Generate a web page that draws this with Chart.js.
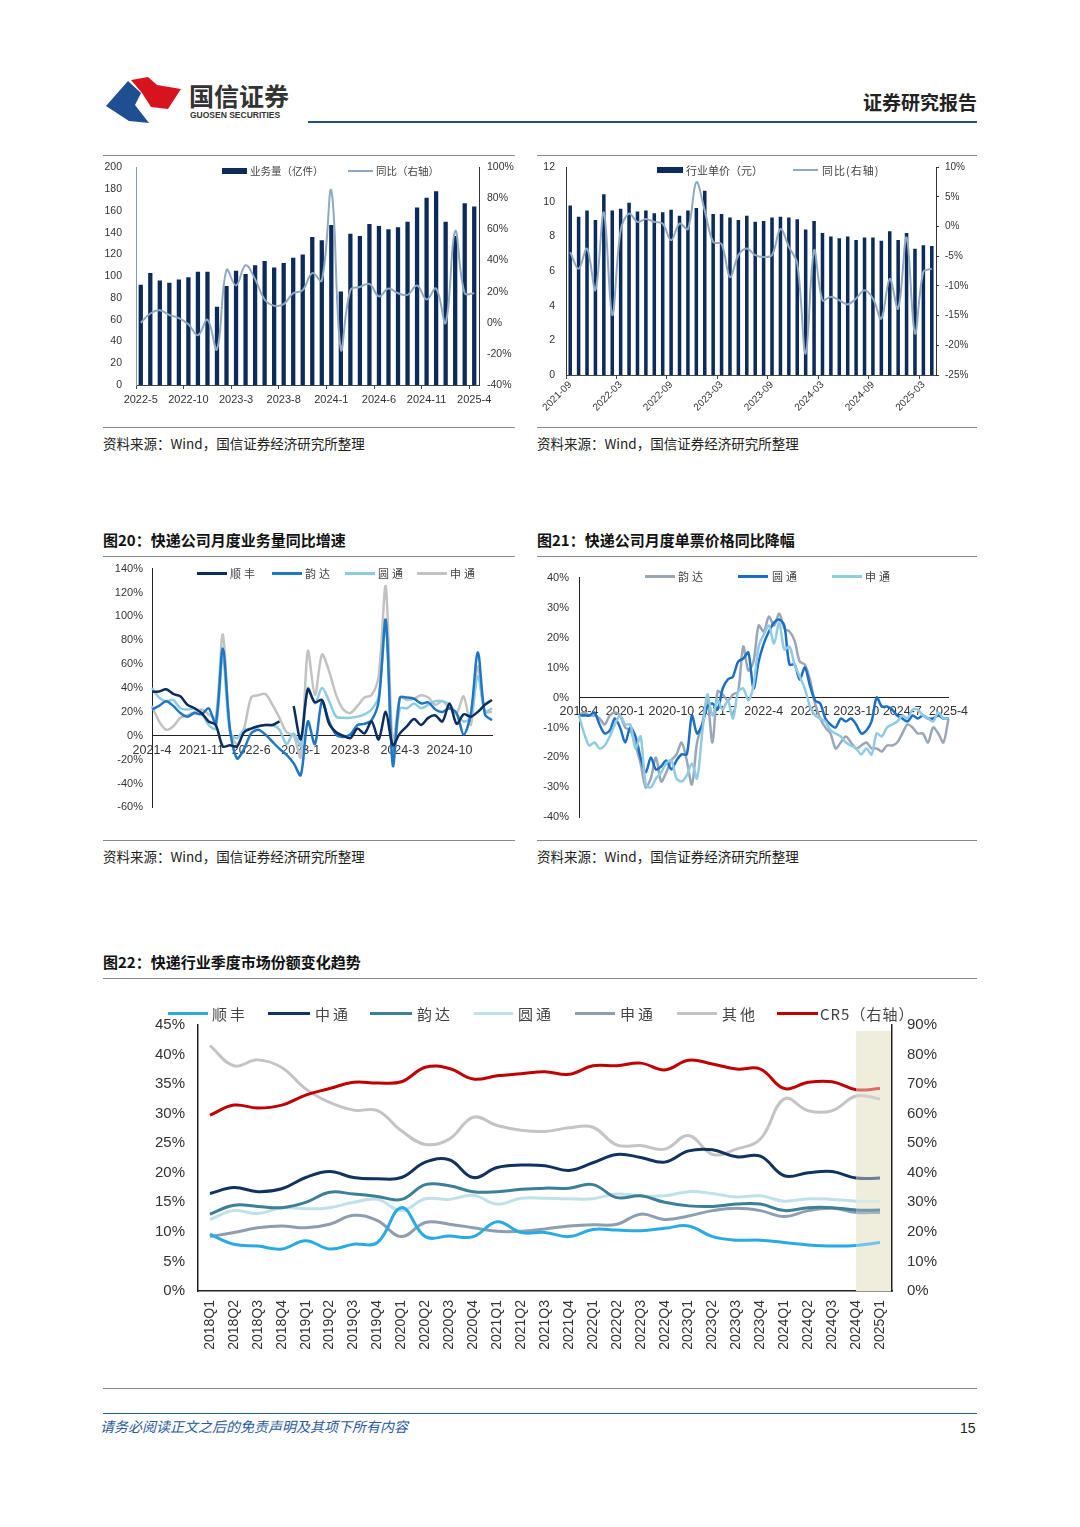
<!DOCTYPE html>
<html>
<head>
<meta charset="utf-8">
<script src="https://cdn.jsdelivr.net/npm/chart.js@4.4.1/dist/chart.umd.min.js"></script>
<style>
body{margin:0;background:#fff;}
#page{position:relative;width:1080px;height:1527px;overflow:hidden;font-family:"Liberation Sans","Noto Sans CJK SC",sans-serif;color:#222;}
.t{position:absolute;white-space:nowrap;line-height:16px;}
.hr{position:absolute;height:1px;background:#8a8a8a;}
.src{font-size:13.5px;font-family:"Noto Sans CJK SC",sans-serif;color:#222;}
.ttl{font-size:15px;font-weight:bold;font-family:"Noto Sans CJK SC",sans-serif;color:#111;}
.box{position:absolute;}
.mk{position:absolute;}
.lg{position:absolute;white-space:nowrap;font-family:"Noto Sans CJK SC",sans-serif;color:#444;line-height:14px;}
</style>
</head>
<body>
<div id="page">
  <!-- header -->
  <svg style="position:absolute;left:104px;top:76px" width="82" height="50">
    <path d="M2 30 L24 5 L37 17 L31 29 L45 47 L25 45 Z" fill="#1d4f91"/>
    <path d="M27 4 L44 1 L53 9 L77 13 L64 33 L47 31 L38 17 Z" fill="#d7141d"/>
  </svg>
  <div class="t" style="left:189px;top:80px;font-size:25px;line-height:30px;font-weight:bold;color:#333;font-family:'Noto Sans CJK SC';">国信证券</div>
  <div class="t" style="left:190px;top:110px;font-size:8.5px;line-height:11px;font-weight:bold;color:#333;">GUOSEN SECURITIES</div>
  <div class="t" style="right:103px;top:90px;font-size:19px;line-height:23px;font-weight:bold;color:#222;font-family:'Noto Sans CJK SC';">证券研究报告</div>
  <div class="hr" style="left:308px;top:121px;width:669px;height:2px;background:#1f4e8c;"></div>

  <!-- top charts frame -->
  <div class="hr" style="left:103px;top:155px;width:412px;"></div>
  <div class="hr" style="left:537px;top:155px;width:440px;"></div>
  <div class="hr" style="left:103px;top:427px;width:412px;"></div>
  <div class="hr" style="left:537px;top:427px;width:440px;"></div>
  <div class="t src" style="left:103px;top:435px;">资料来源：Wind，国信证券经济研究所整理</div>
  <div class="t src" style="left:537px;top:435px;">资料来源：Wind，国信证券经济研究所整理</div>

  <div class="box" style="left:100px;top:147px;width:415px;height:263px;"><canvas id="c1" width="415" height="263"></canvas></div>
  <div class="mk" style="left:222px;top:168px;width:25px;height:6px;background:#0c2b5b;"></div>
  <div class="lg" style="left:250px;top:164px;font-size:10.5px;">业务量（亿件）</div>
  <div class="mk" style="left:348px;top:170px;width:25px;height:2px;background:#8fa9c2;"></div>
  <div class="lg" style="left:376px;top:164px;font-size:10.5px;">同比（右轴）</div>

  <div class="box" style="left:535px;top:150px;width:440px;height:275px;"><canvas id="c2" width="440" height="275"></canvas></div>
  <div class="mk" style="left:657px;top:167px;width:26px;height:6px;background:#0c2b5b;"></div>
  <div class="lg" style="left:686px;top:163px;font-size:11px;">行业单价（元）</div>
  <div class="mk" style="left:793px;top:169px;width:25px;height:2px;background:#8fa9c2;"></div>
  <div class="lg" style="left:822px;top:163px;font-size:11px;letter-spacing:1px;">同比(右轴)</div>

  <!-- middle charts -->
  <div class="t ttl" style="left:103px;top:532px;">图20：快递公司月度业务量同比增速</div>
  <div class="t ttl" style="left:537px;top:532px;">图21：快递公司月度单票价格同比降幅</div>
  <div class="hr" style="left:103px;top:556px;width:412px;"></div>
  <div class="hr" style="left:537px;top:556px;width:440px;"></div>
  <div class="hr" style="left:103px;top:840px;width:412px;"></div>
  <div class="hr" style="left:537px;top:840px;width:440px;"></div>
  <div class="t src" style="left:103px;top:848px;">资料来源：Wind，国信证券经济研究所整理</div>
  <div class="t src" style="left:537px;top:848px;">资料来源：Wind，国信证券经济研究所整理</div>

  <div class="box" style="left:100px;top:553px;width:415px;height:270px;"><canvas id="c3" width="415" height="270"></canvas></div>
  <div class="mk" style="left:197px;top:572px;width:30px;height:3px;background:#0d2d5e;"></div>
  <div class="lg" style="left:230px;top:566px;font-size:11px;letter-spacing:3px;">顺丰</div>
  <div class="mk" style="left:272px;top:572px;width:30px;height:3px;background:#1f77c4;"></div>
  <div class="lg" style="left:305px;top:566px;font-size:11px;letter-spacing:3px;">韵达</div>
  <div class="mk" style="left:345px;top:572px;width:30px;height:3px;background:#8dcbe3;"></div>
  <div class="lg" style="left:378px;top:566px;font-size:11px;letter-spacing:3px;">圆通</div>
  <div class="mk" style="left:417px;top:572px;width:30px;height:3px;background:#c2c2c2;"></div>
  <div class="lg" style="left:450px;top:566px;font-size:11px;letter-spacing:3px;">申通</div>

  <div class="box" style="left:535px;top:561px;width:440px;height:273px;"><canvas id="c4" width="440" height="273"></canvas></div>
  <div class="mk" style="left:645px;top:575px;width:30px;height:3px;background:#9aa6b8;"></div>
  <div class="lg" style="left:678px;top:569px;font-size:11px;letter-spacing:3px;">韵达</div>
  <div class="mk" style="left:738px;top:575px;width:30px;height:3px;background:#1a6fc4;"></div>
  <div class="lg" style="left:772px;top:569px;font-size:11px;letter-spacing:3px;">圆通</div>
  <div class="mk" style="left:832px;top:575px;width:30px;height:3px;background:#8fcbe3;"></div>
  <div class="lg" style="left:865px;top:569px;font-size:11px;letter-spacing:3px;">申通</div>

  <!-- bottom chart -->
  <div class="t ttl" style="left:103px;top:954px;">图22：快递行业季度市场份额变化趋势</div>
  <div class="hr" style="left:103px;top:978px;width:874px;"></div>
  <div class="box" style="left:150px;top:1001px;width:790px;height:364px;"><canvas id="c5" width="790" height="364"></canvas></div>
  <div class="mk" style="left:168px;top:1012px;width:40px;height:3px;background:#2aaae2;"></div>
  <div class="lg" style="left:212px;top:1005px;font-size:15px;line-height:18px;letter-spacing:3px;">顺丰</div>
  <div class="mk" style="left:268px;top:1012px;width:42px;height:3px;background:#12325f;"></div>
  <div class="lg" style="left:315px;top:1005px;font-size:15px;line-height:18px;letter-spacing:3px;">中通</div>
  <div class="mk" style="left:370px;top:1012px;width:42px;height:3px;background:#3d7f96;"></div>
  <div class="lg" style="left:417px;top:1005px;font-size:15px;line-height:18px;letter-spacing:3px;">韵达</div>
  <div class="mk" style="left:474px;top:1012px;width:39px;height:3px;background:#c0e0ea;"></div>
  <div class="lg" style="left:518px;top:1005px;font-size:15px;line-height:18px;letter-spacing:3px;">圆通</div>
  <div class="mk" style="left:575px;top:1012px;width:40px;height:3px;background:#8e9db0;"></div>
  <div class="lg" style="left:620px;top:1005px;font-size:15px;line-height:18px;letter-spacing:3px;">申通</div>
  <div class="mk" style="left:677px;top:1012px;width:40px;height:3px;background:#c4c4c4;"></div>
  <div class="lg" style="left:722px;top:1005px;font-size:15px;line-height:18px;letter-spacing:3px;">其他</div>
  <div class="mk" style="left:777px;top:1012px;width:41px;height:3px;background:#c00000;"></div>
  <div class="lg" style="left:820px;top:1005px;font-size:15px;line-height:18px;letter-spacing:1px;">CR5（右轴）</div>
  <div class="hr" style="left:103px;top:1388px;width:874px;"></div>

  <!-- footer -->
  <div class="hr" style="left:103px;top:1413px;width:874px;background:#2a5a9a;"></div>
  <div class="t" style="left:100px;top:1418px;font-size:14px;font-style:italic;color:#2a5a9a;font-family:'Noto Sans CJK SC';">请务必阅读正文之后的免责声明及其项下所有内容</div>
  <div class="t" style="left:960px;top:1420px;font-size:14px;color:#222;">15</div>
</div>

<script>
function monthLabels(y, m, n, pad) {
  const out = [];
  for (let i = 0; i < n; i++) {
    out.push(y + '-' + (pad && m < 10 ? '0' + m : m));
    m++; if (m > 12) { m = 1; y++; }
  }
  return out;
}

// 图：快递业务量（亿件）及同比
const volMonths = monthLabels(2022, 5, 36, false);
const volValues = [92,103,96,94,97,99,104,104,72,91,105,102,110,114,108,112,117,120,136,133,147,86,139,137,148,146,143,145,150,163,172,178,150,137,167,164];
const volYoy = [0,6,8,5,3,-1,-8,2,-17,34,24,37,28,15,11,12,19,21,32,27,85,-17,21,23,25,17,22,19,18,24,15,22,0,59,19,19];

// 图：行业单价（元）及同比
const priceMonths = monthLabels(2021, 9, 44, true);
const priceValues = [9.8,9.15,9.5,8.95,10.45,9.5,9.6,9.95,9.45,9.5,9.35,9.4,9.55,9.2,9.5,9.65,10.65,9.3,9.3,9.1,8.95,9.2,8.85,8.9,9.1,9.15,9.1,9.0,8.4,8.9,8.2,8.0,7.9,8.0,7.8,7.95,7.95,7.75,8.3,7.8,8.2,7.3,7.5,7.45];
const priceYoy = [-4.3,-7.1,-3.7,-10.7,2.4,-14.9,-0.6,2.2,0.8,1.3,0.8,0.5,-2.3,0.5,-0.4,7.5,2.7,-2.6,-2.9,-8.5,-4.8,-3.7,-4.8,-5.1,-4.8,-0.4,-3.4,-6.2,-21.4,-4.0,-12.4,-11.8,-12.4,-13.1,-12.1,-10.7,-12.1,-15.5,-8.8,-13.8,-1.8,-18.0,-7.6,-7.1];

// 图20
const m20 = monthLabels(2021, 4, 49, false);
const sf20 = [37,37,39,35,33,26,23,19,12,9,-9,-8,-9,3,6,8,9,9,12,null,25,-3,39,28,30,10,3,0,-2,6,2,12,-3,20,-8,2,8,14,9,15,17,12,27,10,18,16,20,26,30];
const yd20 = [22,25,29,25,19,16,19,18,23,10,73,6,-19,-11,2,5,1,-5,-11,-16,-23,-33,12,-7,29,12,1,-1,1,9,10,13,29,97,-25,32,32,31,27,28,22,20,23,19,1,18,70,18,13];
const yt20 = [40,32,29,30,23,22,23,19,9,6,66,3,-2,5,6,8,9,9,5,-7,2,-8,40,27,40,29,16,15,15,16,18,22,33,94,-22,23,23,27,23,26,29,29,26,18,12,15,50,20,23];
const st20 = [25,12,5,8,15,17,20,22,18,15,85,5,-7,6,32,34,35,26,15,3,0,-18,71,34,68,54,34,22,19,25,32,34,50,125,-8,32,30,31,34,32,26,29,23,19,33,9,58,20,20];

// 图21
const m21 = monthLabels(2019, 4, 73, false);
const yd21 = [-6,-5,-6,-6,-7,-9,-6,-5,-6,-10,-11,-16,-22,-30,-27,-20,-28,-25,-21,-19,-15,-21,-29,-15,-9,-1,-15,2,1,-1,1,2,17,9,12,24,22,27,24,28,23,22,19,12,11,6,-2,-7,-10,-12,-17,-15,-13,-15,-17,-16,-15,-17,-17,-18,-16,-16,-15,-12,-9,-10,-12,-12,-15,-10,-12,-15,-7];
const yt21 = [-6,-6,-6,-5,-9,-12,-11,-7,-10,-15,-10,-13,-20,-25,-20,-24,-23,-21,-24,-21,-19,-19,-6,-12,-9,-3,-2,-4,3,6,7,12,13,15,3,12,18,22,25,26,24,11,11,6,10,4,-1,-2,-7,-9,-10,-7,-8,-7,-9,-12,-11,-8,0,-3,-3,-4,-6,-7,-8,-6,-7,-6,-7,-7,-6,-7,-7];
const st21 = [-6,-12,-16,-15,-17,-16,-13,-9,-6,-9,-9,-17,-13,-29,-30,-27,-25,-22,-21,-27,-28,-26,-22,-27,-12,1,-6,-1,-4,-1,-7,2,3,-1,4,17,21,24,18,25,16,17,11,7,3,-3,-6,-7,-8,-11,-12,-13,-15,-16,-17,-19,-17,-19,-12,-13,-10,-9,-8,-6,-7,-4,-4,-6,-7,-8,-5,-7,-7];

// 图22
const quarters = ['2018Q1','2018Q2','2018Q3','2018Q4','2019Q1','2019Q2','2019Q3','2019Q4','2020Q1','2020Q2','2020Q3','2020Q4','2021Q1','2021Q2','2021Q3','2021Q4','2022Q1','2022Q2','2022Q3','2022Q4','2023Q1','2023Q2','2023Q3','2023Q4','2024Q1','2024Q2','2024Q3','2024Q4','2025Q1'];
const sf22 = [9.6,7.9,7.6,7.1,8.5,7.1,7.9,8.2,14.1,9.2,9.3,9.2,11.7,9.9,9.9,9.2,10.4,10.3,10.2,10.6,11.0,9.2,8.6,8.6,8.2,7.8,7.6,7.7,8.2];
const zt22 = [16.5,17.5,16.8,17.3,19.2,20.2,19.2,19.0,19.2,21.8,22.2,19.2,20.9,21.3,21.2,20.4,21.7,23.1,22.6,21.8,23.7,23.9,22.7,22.8,19.5,20.0,20.2,19.1,19.1];
const yd22 = [13.0,14.5,14.3,14.1,15.0,16.7,16.4,16.0,15.5,18.0,17.8,16.8,16.8,17.2,17.4,17.4,18.0,15.8,16.1,15.0,14.4,14.3,14.7,14.7,13.6,14.1,14.1,13.7,13.7];
const yt22 = [12.1,13.6,13.1,14.1,13.9,14.1,15.0,15.5,13.6,15.6,15.5,16.2,14.7,15.7,15.7,15.6,15.6,16.4,16.1,16.1,16.8,16.5,15.9,16.1,15.2,15.6,15.5,15.2,15.2];
const st22 = [9.2,9.9,10.7,11.0,10.7,11.3,12.8,11.9,9.2,11.6,11.3,10.7,10.1,10.1,10.5,11.0,11.2,11.3,13.0,12.1,12.7,13.6,14.0,13.6,12.6,13.6,14.0,13.3,13.3];
const qt22 = [41.5,38.1,39.1,37.8,34.2,31.9,30.6,30.5,27.1,24.8,25.7,29.4,28.0,27.2,27.0,27.6,27.7,24.7,24.6,24.0,26.3,23.1,24.0,25.7,32.5,30.5,30.5,33.0,32.5];
const cr5 = [59.5,62.9,61.9,62.9,66.3,68.5,70.6,70.4,70.8,75.7,75.3,71.7,72.8,73.5,74.2,73.3,76.2,76.2,77.1,74.8,78.1,76.8,75.1,75.1,68.5,70.6,70.8,68.1,68.5];
const shadeFrom = 27; // 2024Q4 起为阴影区

Chart.defaults.font.family = '"Liberation Sans", "Noto Sans CJK SC", sans-serif';
Chart.defaults.color = '#333';

const base = {
  responsive: false, animation: false,
  plugins: { legend: { display: false }, tooltip: { enabled: false } },
  elements: { point: { radius: 0 } }
};
const pct = v => v + '%';
const noGrid = { display: false, drawTicks: false };

// chart 1
new Chart(document.getElementById('c1'), {
  data: {
    labels: volMonths,
    datasets: [
      { type: 'line', data: volYoy, yAxisID: 'y1', borderColor: '#8fa9c2', borderWidth: 2, tension: 0.4 },
      { type: 'bar', data: volValues, yAxisID: 'y', backgroundColor: '#0c2b5b', barPercentage: 0.45, categoryPercentage: 1 }
    ]
  },
  options: Object.assign({}, base, {
    scales: {
      x: {
        grid: { display: true, drawOnChartArea: false, offset: true, tickLength: 4, color: c => c.index % 5 === 0 ? '#444' : 'rgba(0,0,0,0)' },
        border: { color: '#444' },
        ticks: { autoSkip: false, maxRotation: 0, padding: 4, font: { size: 11 }, callback: (v, i) => i % 5 === 0 ? volMonths[i] : '' },
        afterFit: s => { s.height = 25; }
      },
      y: {
        position: 'left', min: 0, max: 200,
        ticks: { stepSize: 20, font: { size: 10.5 }, padding: 14 },
        grid: noGrid, border: { color: '#7f9bb8' },
        afterFit: s => { s.width = 36; }
      },
      y1: {
        position: 'right', min: -40, max: 100,
        ticks: { stepSize: 20, font: { size: 10.5 }, padding: 8, callback: pct },
        grid: noGrid, border: { color: '#333' },
        afterFit: s => { s.width = 36; }
      }
    }
  })
});

// chart 2
new Chart(document.getElementById('c2'), {
  data: {
    labels: priceMonths,
    datasets: [
      { type: 'line', data: priceYoy, yAxisID: 'y1', borderColor: '#8fa9c2', borderWidth: 2, tension: 0.35 },
      { type: 'bar', data: priceValues, yAxisID: 'y', backgroundColor: '#0c2b5b', barPercentage: 0.42, categoryPercentage: 1 }
    ]
  },
  options: Object.assign({}, base, {
    scales: {
      x: {
        grid: { display: true, drawOnChartArea: false, offset: true, tickLength: 4, color: c => c.index % 6 === 0 ? '#444' : 'rgba(0,0,0,0)' },
        border: { color: '#444' },
        ticks: { autoSkip: false, minRotation: 45, maxRotation: 45, padding: 0, font: { size: 10 }, callback: (v, i) => i % 6 === 0 ? priceMonths[i] : '' },
        afterFit: s => { s.height = 50; }
      },
      y: {
        position: 'left', min: 0, max: 12,
        ticks: { stepSize: 2, font: { size: 10.5 }, padding: 11 },
        grid: noGrid, border: { color: '#333' },
        afterFit: s => { s.width = 31; }
      },
      y1: {
        position: 'right', min: -25, max: 10,
        ticks: { stepSize: 5, font: { size: 10 }, padding: 6, callback: pct },
        grid: { display: true, drawOnChartArea: false, tickLength: 3, color: '#333' }, border: { color: '#333' },
        afterFit: s => { s.width = 39; }
      }
    }
  })
});

// chart 3 (图20)
new Chart(document.getElementById('c3'), {
  type: 'line',
  data: {
    labels: m20,
    datasets: [
      { data: sf20, borderColor: '#0d2d5e', borderWidth: 2.5, tension: 0.3 },
      { data: yd20, borderColor: '#1f77c4', borderWidth: 2.5, tension: 0.3 },
      { data: yt20, borderColor: '#8dcbe3', borderWidth: 2.5, tension: 0.3 },
      { data: st20, borderColor: '#c2c2c2', borderWidth: 2.5, tension: 0.3 }
    ]
  },
  options: Object.assign({}, base, {
    layout: { padding: { right: 23 } },
    scales: {
      x: {
        position: { y: 0 },
        grid: noGrid, border: { color: '#222' },
        ticks: { autoSkip: false, maxRotation: 0, padding: 7, font: { size: 12.5 }, callback: (v, i) => i % 7 === 0 ? m20[i] : '' }
      },
      y: {
        min: -60, max: 140,
        ticks: { stepSize: 20, font: { size: 11 }, padding: 9, callback: pct },
        grid: noGrid, border: { color: '#222' },
        afterFit: s => { s.width = 52; }
      }
    }
  })
});

// chart 4 (图21)
new Chart(document.getElementById('c4'), {
  type: 'line',
  data: {
    labels: m21,
    datasets: [
      { data: st21, borderColor: '#8fcbe3', borderWidth: 2.5, tension: 0.3 },
      { data: yt21, borderColor: '#1a6fc4', borderWidth: 2.5, tension: 0.3 },
      { data: yd21, borderColor: '#9aa6b8', borderWidth: 2.5, tension: 0.3 }
    ]
  },
  options: Object.assign({}, base, {
    layout: { padding: { right: 23 } },
    scales: {
      x: {
        position: { y: 0 },
        grid: noGrid, border: { color: '#222' },
        ticks: { autoSkip: false, maxRotation: 0, padding: 7, font: { size: 12.5 }, callback: (v, i) => i % 9 === 0 ? m21[i] : '' }
      },
      y: {
        min: -40, max: 40,
        ticks: { stepSize: 10, font: { size: 11 }, padding: 10, callback: pct },
        grid: noGrid, border: { color: '#222' },
        afterFit: s => { s.width = 44; }
      }
    }
  })
});

// chart 5 (图22)
const shadePlugin = {
  id: 'shade',
  beforeDatasetsDraw(chart) {
    const { ctx, chartArea, scales } = chart;
    const x0 = scales.x.getPixelForValue(shadeFrom);
    const y0 = scales.y.getPixelForValue(44);
    ctx.save();
    ctx.fillStyle = '#efeedd';
    ctx.fillRect(x0, y0, chartArea.right - x0 - 1, chartArea.bottom - y0);
    ctx.restore();
  }
};
const lastSeg = light => ({ borderColor: c => c.p0DataIndex >= shadeFrom ? light : undefined });
new Chart(document.getElementById('c5'), {
  type: 'line',
  data: {
    labels: quarters,
    datasets: [
      { data: cr5, yAxisID: 'y1', borderColor: '#c00000', borderWidth: 3, tension: 0.4, segment: lastSeg('#e06a6a') },
      { data: zt22, borderColor: '#12325f', borderWidth: 3, tension: 0.4, segment: lastSeg('#6e7f95') },
      { data: sf22, borderColor: '#2aaae2', borderWidth: 3, tension: 0.4, segment: lastSeg('#6cc6ec') },
      { data: yd22, borderColor: '#3d7f96', borderWidth: 3, tension: 0.4, segment: lastSeg('#6f9aaa') },
      { data: yt22, borderColor: '#c0e0ea', borderWidth: 3, tension: 0.4, segment: lastSeg('#d3e9ef') },
      { data: st22, borderColor: '#8e9db0', borderWidth: 3, tension: 0.4, segment: lastSeg('#a9b3c0') },
      { data: qt22, borderColor: '#c4c4c4', borderWidth: 3, tension: 0.4, segment: lastSeg('#cfcfcf') }
    ]
  },
  options: Object.assign({}, base, {
    scales: {
      x: {
        offset: true,
        grid: noGrid, border: { color: '#222', width: 1.5 },
        ticks: { autoSkip: false, minRotation: 90, maxRotation: 90, padding: 9, font: { size: 14 } },
        afterFit: s => { s.height = 74; }
      },
      y: {
        position: 'left', min: 0, max: 45,
        ticks: { stepSize: 5, font: { size: 15 }, padding: 13, callback: pct },
        grid: noGrid, border: { color: '#222', width: 1.5 },
        afterFit: s => { s.width = 48; }
      },
      y1: {
        position: 'right', min: 0, max: 90,
        ticks: { stepSize: 10, font: { size: 15 }, padding: 15, callback: pct },
        grid: noGrid, border: { color: '#222', width: 1.5 },
        afterFit: s => { s.width = 48; }
      }
    }
  }),
  plugins: [shadePlugin]
});
</script>
</body>
</html>
